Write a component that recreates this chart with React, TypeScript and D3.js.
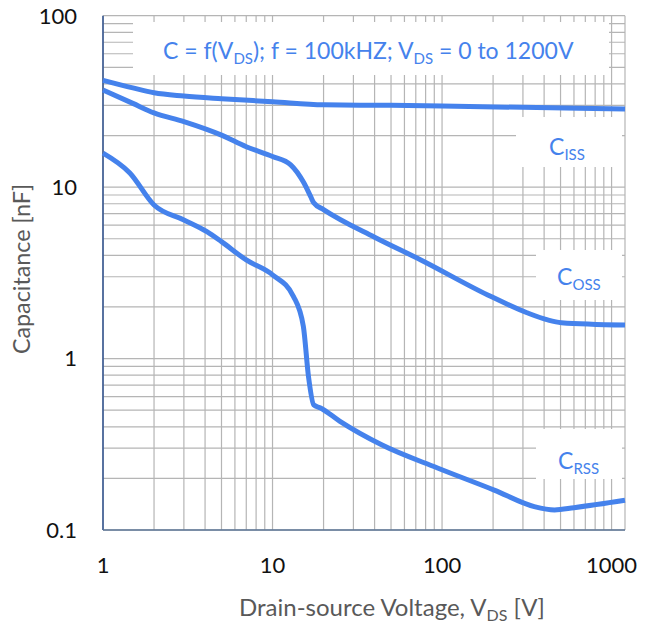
import React from "react";
import { scaleLog, line, curveMonotoneX, range } from "d3";

const width = 654;
const height = 626;

const margin = { top: 15.7, right: 29, bottom: 96, left: 103 };
const innerWidth = width - margin.left - margin.right;
const innerHeight = height - margin.top - margin.bottom;

// Ciss
const cissV = [1, 1.5, 2, 3, 5, 10, 20, 50, 100, 300, 1200];
const cissC = [42, 37.9, 35.5, 34, 32.8, 31.5, 30.2, 30, 29.7, 29.2, 28.6];

// Coss
const cossV = [1, 1.5, 2, 3, 5, 7, 10, 12.8, 15.3, 16.8, 17.5, 20, 40, 75, 186, 317, 420, 505, 1200];
const cossC = [36.9, 30.8, 27.1, 24.1, 20.1, 17.2, 15.1, 13.5, 10.6, 8.8, 8.1, 7.4, 5.1, 3.76, 2.35, 1.85, 1.68, 1.62, 1.57];

// Crss
const crssV = [1, 1.44, 2, 3, 4.1, 5, 7, 10, 13.3, 15.2, 16.3, 17.5, 19.2, 25, 44, 94, 203, 350, 461, 600, 1200];
const crssC = [15.8, 12.1, 7.87, 6.44, 5.5, 4.81, 3.76, 3.08, 2.3, 1.54, 0.785, 0.537, 0.515, 0.43, 0.314, 0.23, 0.171, 0.137, 0.131, 0.135, 0.149];

const xTickLabels = [1, 10, 100, 1000];
const yTickLabels = [0.1, 1, 10, 100];

const blue = "#4582ec";
const font = "Lato, 'Open Sans', sans-serif";

type Pt = { v: number; c: number };
const zip = (vs: number[], cs: number[]): Pt[] => vs.map((v, i) => ({ v, c: cs[i] }));

export default function App() {
  const xScale = scaleLog().domain([1, 1200]).range([0, innerWidth]);
  const yScale = scaleLog().domain([0.1, 100]).range([innerHeight, 0]);

  // minor grid 1..9 per decade
  const xGrid: number[] = [];
  [1, 10, 100].forEach((d) => range(1, 10).forEach((m) => xGrid.push(d * m)));
  xGrid.push(1000);
  const yGrid: number[] = [];
  [0.1, 1, 10].forEach((d) => range(1, 10).forEach((m) => yGrid.push(d * m)));
  yGrid.push(100);

  const path = line<Pt>()
    .curve(curveMonotoneX)
    .x((d) => xScale(d.v))
    .y((d) => yScale(d.c));

  const series = [zip(cissV, cissC), zip(cossV, cossC), zip(crssV, crssC)];

  const subLabel = (x: number, y: number, sub: string) => (
    <text x={x} y={y} fill={blue} fontSize={23} fontFamily={font}>
      C<tspan fontSize={15} dy={5}>{sub}</tspan>
    </text>
  );

  return (
    <svg width={width} height={height} style={{ position: "absolute", left: 0, top: 0 }}>
      <rect width={width} height={height} fill="white" />
      <g transform={`translate(${margin.left}, ${margin.top})`}>
        {/* grid */}
        {xGrid.map((t) => (
          <line key={"x" + t} x1={xScale(t)} x2={xScale(t)} y1={0} y2={innerHeight} stroke="#b5b5b5" strokeWidth={1.2} />
        ))}
        {yGrid.map((t) => (
          <line key={"y" + t} y1={yScale(t)} y2={yScale(t)} x1={0} x2={innerWidth} stroke="#b5b5b5" strokeWidth={1.2} />
        ))}
        <line x1={innerWidth} x2={innerWidth} y1={0} y2={innerHeight} stroke="#b5b5b5" strokeWidth={1.2} />

        {/* white boxes behind texts */}
        <rect x={133 - margin.left} y={22 - margin.top} width={476} height={53} fill="white" />
        <rect x={516 - margin.left} y={117 - margin.top} width={106} height={50} fill="white" />
        <rect x={536 - margin.left} y={250 - margin.top} width={86} height={50} fill="white" />
        <rect x={536 - margin.left} y={429 - margin.top} width={86} height={50} fill="white" />

        {/* axes */}
        <line x1={0} x2={0} y1={0} y2={innerHeight} stroke="#2f528f" strokeWidth={1.5} />
        <line x1={0} x2={innerWidth} y1={innerHeight} y2={innerHeight} stroke="#5a7394" strokeWidth={1.5} />

        {/* marks */}
        {series.map((s, i) => (
          <path key={i} d={path(s) || ""} fill="none" stroke={blue} strokeWidth={5} strokeLinejoin="round" />
        ))}

        {/* tick labels */}
        {xTickLabels.map((t) => (
          <text key={t} x={xScale(t)} y={innerHeight + 43} textAnchor="middle" fontSize={22} fontFamily={font} fill="#111">
            {t}
          </text>
        ))}
        {yTickLabels.map((t) => (
          <text key={t} x={-26} y={yScale(t)} dy="0.36em" textAnchor="end" fontSize={22} fontFamily={font} fill="#111">
            {t}
          </text>
        ))}
      </g>

      {/* title */}
      <text x={163} y={59} fill={blue} fontSize={23} fontFamily={font}>
        C = f(V<tspan fontSize={15} dy={5}>DS</tspan>
        <tspan dy={-5}>); f = 100kHZ; V</tspan>
        <tspan fontSize={15} dy={5}>DS</tspan>
        <tspan dy={-5}> = 0 to 1200V</tspan>
      </text>

      {subLabel(549, 155, "ISS")}
      {subLabel(557, 285, "OSS")}
      {subLabel(558, 469, "RSS")}

      {/* axis titles */}
      <text
        transform={`translate(30, 269) rotate(-90)`}
        textAnchor="middle"
        fontSize={23.3}
        fontFamily={font}
        fill="#595959"
      >
        Capacitance [nF]
      </text>
      <text x={392} y={616} textAnchor="middle" fontSize={24} fontFamily={font} fill="#595959">
        Drain-source Voltage, V<tspan fontSize={16} dy={5}>DS</tspan>
        <tspan dy={-5}> [V]</tspan>
      </text>
    </svg>
  );
}
